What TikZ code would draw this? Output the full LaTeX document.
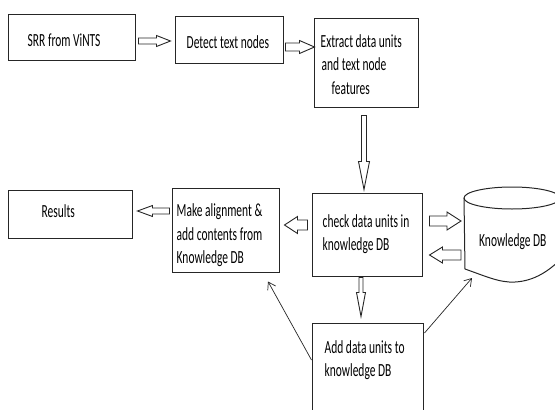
\documentclass[tikz,border=0pt]{standalone}
\usepackage{fontspec}
\setmainfont{Carlito}[FakeStretch=0.62]
\usetikzlibrary{calc,arrows.meta}

\newcommand{\blockarr}[5]{%
  \draw[blockline] ($(#1)!#3!90:(#2)$) -- ($(#2)!#5!(#1)!#3!-90:(#1)$) -- ($(#2)!#5!(#1)!#4!-90:(#1)$) -- (#2) -- ($(#2)!#5!(#1)!#4!90:(#1)$) -- ($(#2)!#5!(#1)!#3!90:(#1)$) -- ($(#1)!#3!-90:(#2)$) -- cycle;}

\begin{document}
\begin{tikzpicture}[x=1pt,y=-1pt,
	box/.style={draw=black!85, line width=1pt, rectangle},
	txt/.style={inner sep=0pt, align=left, anchor=west, font=\fontsize{18.5}{23.5}\selectfont},
	blockline/.style={draw=black!85, line width=0.9pt, fill=white},
	outline/.style={draw=black!85, line width=1pt},
	feed/.style={draw=black!85, line width=0.7pt, ->},
	>={Straight Barb[length=7pt,width=9pt]}]
				\useasboundingbox (0,0) rectangle (555,410);
				\clip (0,0) rectangle (555,410);
				\node[box, minimum width=127pt, minimum height=46pt] (srr) at (71.5,37) {};
				\node[box, minimum width=108pt, minimum height=47pt] (detect) at (229,39.5) {};
				\node[box, minimum width=104pt, minimum height=89pt] (extract) at (366,62.5) {};
				\node[box, minimum width=124pt, minimum height=48pt] (results) at (70,214) {};
				\node[box, minimum width=107pt, minimum height=84pt] (align) at (225.5,230) {};
				\node[box, minimum width=110pt, minimum height=83pt] (check) at (367,234.5) {};
				\node[box, minimum width=111pt, minimum height=122pt] (add) at (367.5,384) {};
				\node[txt] (srrtext) at ([shift={(20,3)}]srr.west) {SRR from ViNTS};
				\node[txt] (detecttext) at ([shift={(12,2.5)}]detect.west) {Detect text nodes};
				\node[txt] (extracttext) at ([shift={(7,2)}]extract.west) {Extract data units\\\hspace*{1pt}and text node\\\hspace*{11pt}features};
				\node[txt] (resultstext) at ([shift={(34,-3)}]results.west) {Results};
				\node[txt] (aligntext) at ([shift={(5,5.5)}]align.west) {Make alignment \&\\add contents from\\Knowledge DB};
				\node[txt] (checktext) at ([shift={(11,-0.5)}]check.west) {check data units in\\knowledge DB};
				\node[txt] (addtext) at ([shift={(13,-24)}]add.west) {Add data units to\\knowledge DB};
				\coordinate (kdb) at (512,235);
				\draw[outline] (464,198) -- (465,269) .. controls (485,276) and (500,283) .. (515,282) .. controls (535,281) and (550,270) .. (562,258) -- (560,198);
				\draw[outline] (512,198) ellipse [x radius=48pt, y radius=11pt];
				\node[txt] (kdbtext) at ([shift={(-33,7)}]kdb) {Knowledge DB};
				\coordinate (srrR) at ([shift={(3,4)}]srr.east);
				\coordinate (detL) at ([shift={(-4,1.5)}]detect.west);
				\coordinate (detR) at ([shift={(2,7.5)}]detect.east);
				\coordinate (extL) at ([shift={(1,-15.5)}]extract.west);
				\coordinate (extB) at ([shift={(-2,8)}]extract.south);
				\coordinate (chkT) at ([shift={(-3,-3)}]check.north);
				\coordinate (chkL) at ([shift={(-4,-9.5)}]check.west);
				\coordinate (alnR) at ([shift={(5,-5)}]align.east);
				\coordinate (alnL) at ([shift={(-2,-19)}]align.west);
				\coordinate (resR) at ([shift={(5,-3)}]results.east);
				\coordinate (chkRa) at ([shift={(7,-13.5)}]check.east);
				\coordinate (kdbLa) at ([shift={(-51,-14)}]kdb);
				\coordinate (kdbLb) at ([shift={(-51,20)}]kdb);
				\coordinate (chkRb) at ([shift={(7,20.5)}]check.east);
				\coordinate (chkB) at ([shift={(-6,1)}]check.south);
				\coordinate (addT) at ([shift={(-6.5,-6)}]add.north);
				\blockarr{srrR}{detL}{3pt}{5.5pt}{14pt}
				\blockarr{detR}{extL}{4pt}{6.5pt}{15pt}
				\blockarr{extB}{chkT}{2.5pt}{5.5pt}{28pt}
				\blockarr{chkL}{alnR}{5pt}{8.5pt}{13pt}
				\blockarr{alnL}{resR}{3pt}{5.5pt}{15pt}
				\blockarr{chkRa}{kdbLa}{5pt}{9pt}{14pt}
				\blockarr{kdbLb}{chkRb}{5pt}{8pt}{13pt}
				\blockarr{chkB}{addT}{2pt}{4.5pt}{24pt}
				\coordinate (alnfoot) at ([shift={(42.5,9)}]align.south);
				\coordinate (kdbfoot) at (472,278);
				\draw[feed] ([shift={(0,-24)}]add.west) -- (alnfoot);
				\draw[feed] ([shift={(1,-51)}]add.east) -- (kdbfoot);
\end{tikzpicture}
\end{document}
